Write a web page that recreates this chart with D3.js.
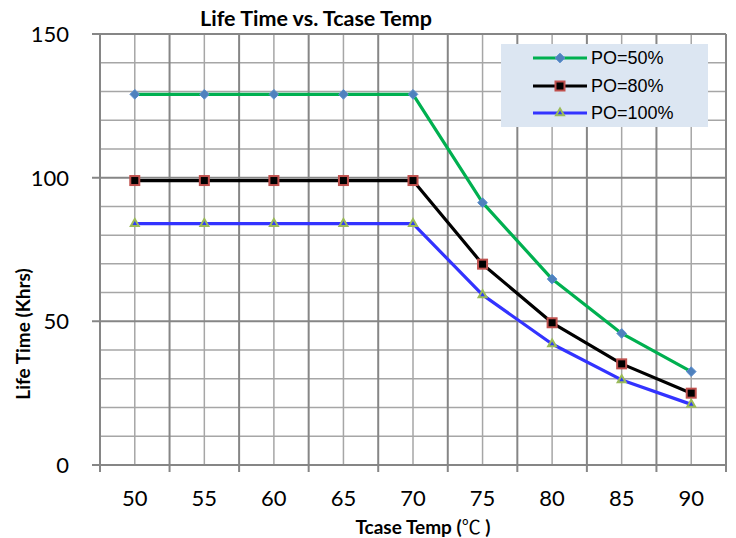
<!DOCTYPE html>
<html lang="en">
<head>
<meta charset="UTF-8">
<title>Life Time vs. Tcase Temp</title>
<script src="https://d3js.org/d3.v7.min.js"></script>
<style>
    body { margin: 0; background: #fff; }
    text { font-family: Lato, "Noto Sans CJK SC", sans-serif; fill: #000; }
    .tick-label { font-size: 22px; }
    .axis-title { font-weight: bold; }
    .legend-text { font-family: "Liberation Sans", Arial, sans-serif; font-size: 18px; }
</style>
</head>
<body>
<script>
const temps = ["50", "55", "60", "65", "70", "75", "80", "85", "90"];
const po50 = [129, 129, 129, 129, 129, 91.3, 64.7, 45.8, 32.5];
const po80 = [99, 99, 99, 99, 99, 69.9, 49.5, 35.2, 25.0];
const po100 = [84, 84, 84, 84, 84, 59.2, 42.1, 29.6, 21.1];
const yTicks = [0, 50, 100, 150];
const yMinor = [10, 20, 30, 40, 60, 70, 80, 90, 110, 120, 130, 140];

const series = [
    {name: "PO=50%", values: po50, color: "#00b050", marker: "diamond"},
    {name: "PO=80%", values: po80, color: "#000000", marker: "square"},
    {name: "PO=100%", values: po100, color: "#3333ff", marker: "triangle"}
];

const width = 736;
const height = 538;
const plot = {left: 100, right: 726, top: 34, bottom: 465};

const svg = d3.select("body")
    .append("svg")
    .attr("width", width)
    .attr("height", height);

const x = d3.scaleBand()
    .domain(temps)
    .range([plot.left, plot.right])
    .padding(0);

const y = d3.scaleLinear()
    .domain([0, 150])
    .range([plot.bottom, plot.top]);

const cx = d => x(d) + x.bandwidth() / 2;

// grid
const grid = svg.append("g");
grid.selectAll(".hminor")
    .data(yMinor)
    .join("line")
    .attr("x1", plot.left).attr("x2", plot.right)
    .attr("y1", d => y(d)).attr("y2", d => y(d))
    .attr("stroke", "#a6a6a6").attr("stroke-width", 1.5);

grid.selectAll(".vminor")
    .data(temps)
    .join("line")
    .attr("x1", d => cx(d)).attr("x2", d => cx(d))
    .attr("y1", plot.top).attr("y2", plot.bottom)
    .attr("stroke", "#a6a6a6").attr("stroke-width", 1.5);

grid.selectAll(".hmajor")
    .data(yTicks)
    .join("line")
    .attr("x1", plot.left - 8).attr("x2", plot.right)
    .attr("y1", d => y(d)).attr("y2", d => y(d))
    .attr("stroke", "#868686").attr("stroke-width", 2);

const bounds = temps.map(d => x(d)).concat([plot.right]);
grid.selectAll(".vmajor")
    .data(bounds)
    .join("line")
    .attr("x1", d => d).attr("x2", d => d)
    .attr("y1", plot.top).attr("y2", plot.bottom + 7)
    .attr("stroke", "#868686").attr("stroke-width", 2);

// axis labels
svg.append("g")
    .selectAll("text")
    .data(yTicks)
    .join("text")
    .attr("class", "tick-label")
    .attr("x", 69)
    .attr("y", d => y(d))
    .attr("dy", "0.36em")
    .attr("text-anchor", "end")
    .text(d => d);

svg.append("g")
    .selectAll("text")
    .data(temps)
    .join("text")
    .attr("class", "tick-label")
    .attr("x", d => cx(d))
    .attr("y", 506)
    .attr("text-anchor", "middle")
    .text(d => d);

// titles
svg.append("text")
    .attr("class", "axis-title")
    .attr("x", 316)
    .attr("y", 26)
    .attr("text-anchor", "middle")
    .style("font-size", "21.5px")
    .text("Life Time vs. Tcase Temp");

svg.append("text")
    .attr("class", "axis-title")
    .attr("transform", "translate(30,334) rotate(-90)")
    .attr("text-anchor", "middle")
    .style("font-size", "19px")
    .text("Life Time (Khrs)");

const xTitle = svg.append("text")
    .attr("class", "axis-title")
    .attr("x", 423)
    .attr("y", 534)
    .attr("text-anchor", "middle")
    .style("font-size", "19px");
xTitle.append("tspan").text("Tcase Temp (");
xTitle.append("tspan")
    .style("font-family", "'Noto Sans CJK SC', sans-serif")
    .style("font-weight", "normal")
    .text("℃");
xTitle.append("tspan").text(" )");

// markers
function drawMarker(g, type, px, py) {
    if (type === "diamond") {
        g.append("path")
            .attr("d", d3.symbol(d3.symbolDiamond2, 60)())
            .attr("transform", `translate(${px},${py})`)
            .attr("fill", "#4f81bd")
            .attr("stroke", "#5b8fd0")
            .attr("stroke-width", 1);
    } else if (type === "square") {
        g.append("rect")
            .attr("x", px - 4.5).attr("y", py - 4.5)
            .attr("width", 9).attr("height", 9)
            .attr("fill", "#000")
            .attr("stroke", "#c0504d")
            .attr("stroke-width", 2);
    } else {
        g.append("path")
            .attr("d", d3.symbol(d3.symbolTriangle2, 45)())
            .attr("transform", `translate(${px},${py})`)
            .attr("fill", "#2f3cf5")
            .attr("stroke", "#9bbb59")
            .attr("stroke-width", 2);
    }
}

const line = d3.line()
    .x((d, i) => cx(temps[i]))
    .y(d => y(d));

series.forEach(s => {
    const g = svg.append("g");
    g.append("path")
        .attr("d", line(s.values))
        .attr("fill", "none")
        .attr("stroke", s.color)
        .attr("stroke-width", 3.2)
        .attr("stroke-linejoin", "round");
    s.values.forEach((v, i) => drawMarker(g, s.marker, cx(temps[i]), y(v)));
});

// legend
const legend = svg.append("g");
legend.append("rect")
    .attr("x", 501).attr("y", 44)
    .attr("width", 207).attr("height", 83)
    .attr("fill", "#dce6f2");

const rowY = [58, 86, 113];
series.forEach((s, i) => {
    const g = legend.append("g");
    g.append("line")
        .attr("x1", 533).attr("x2", 587)
        .attr("y1", rowY[i]).attr("y2", rowY[i])
        .attr("stroke", s.color)
        .attr("stroke-width", 3.2);
    drawMarker(g, s.marker, 560, rowY[i]);
    g.append("text")
        .attr("class", "legend-text")
        .attr("x", 591)
        .attr("y", rowY[i])
        .attr("dy", "0.36em")
        .text(s.name);
});
</script>
</body>
</html>
